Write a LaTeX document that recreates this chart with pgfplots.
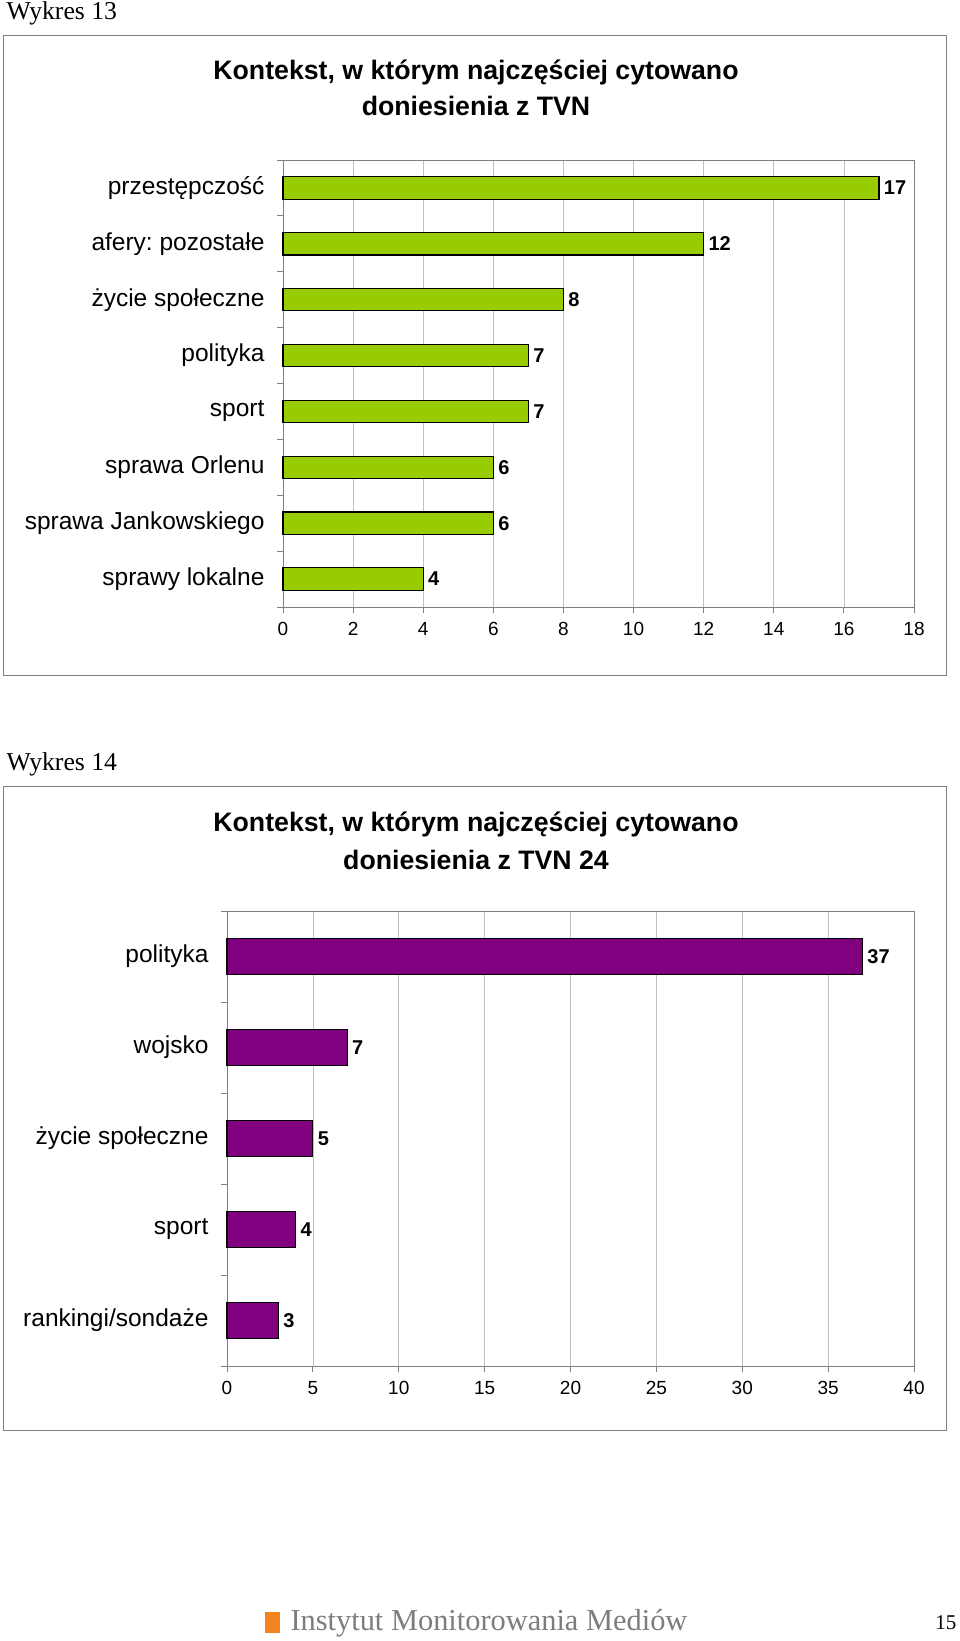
\documentclass[border=0pt]{standalone}
\usepackage{pgfplots}
\pgfplotsset{compat=1.18}
\usepackage{fontspec}
\setmainfont{Liberation Sans}
\newfontfamily\timesfont{Liberation Serif}
\frenchspacing
\definecolor{barg}{RGB}{153,204,0}
\definecolor{barp}{RGB}{128,0,128}
\definecolor{framegray}{RGB}{128,128,128}
\definecolor{gridgray}{RGB}{192,192,192}
\definecolor{logoorange}{RGB}{245,130,32}
\definecolor{logogray}{RGB}{125,125,125}
\pgfplotsset{
 mybar/.style={
  xbar, scale only axis,
  xmajorgrids, grid style={gridgray, line width=0.6pt},
  axis line style={framegray, line width=0.8pt},
  tick align=outside, xtick pos=bottom, ytick pos=left,
  major y tick style={draw=none},
  tick style={framegray, line width=0.8pt},
  major tick length=6pt, minor tick length=6pt,
  /pgf/number format/assume math mode=true,
  xticklabel style={font=\fontsize{19}{22}\selectfont, yshift=-6pt},
  yticklabel style={font=\frenchspacing\fontsize{24.5}{28}\selectfont, xshift=-9pt},
  nodes near coords,
  nodes near coords style={font=\bfseries\fontsize{20}{23}\selectfont, anchor=west, xshift=1pt, black},
  bar width=0.4,
  clip=false,
 }
}
\begin{document}
\begin{tikzpicture}
\path[use as bounding box] (0,0) rectangle (960pt,-1641pt);
% headings
\node[anchor=west, font=\timesfont\fontsize{25.7}{28}\selectfont] at (3pt,-13pt) {Wykres 13};
\node[anchor=west, font=\timesfont\fontsize{25.7}{28}\selectfont] at (3pt,-764pt) {Wykres 14};
% frames
\draw[framegray, line width=0.8pt] (3pt,-35pt) rectangle (946pt,-675pt);
\draw[framegray, line width=0.8pt] (3pt,-786pt) rectangle (946pt,-1430pt);
% titles
\node[font=\bfseries\fontsize{26.7}{30}\selectfont] at (476pt,-72pt) {Kontekst, w którym najczęściej cytowano};
\node[font=\bfseries\fontsize{26.7}{30}\selectfont] at (476pt,-106pt) {doniesienia z TVN};
\node[font=\bfseries\fontsize{26.7}{30}\selectfont] at (476pt,-824pt) {Kontekst, w którym najczęściej cytowano};
\node[font=\bfseries\fontsize{26.7}{30}\selectfont] at (476pt,-860pt) {doniesienia z TVN 24};

\begin{axis}[mybar,
  at={(283pt,-607pt)}, anchor=south west,
  width=631pt, height=447pt,
  xmin=0, xmax=18, xtick={0,2,...,18},
  ymin=-0.5, ymax=7.5,
  ytick={0,...,7},
  yticklabels={sprawy lokalne, sprawa Jankowskiego, sprawa Orlenu, sport, polityka, życie społeczne, afery: pozostałe, przestępczość},
  minor ytick={-0.5,0.5,...,7.5},
]
\addplot[fill=barg, draw=black, line width=1.2pt] coordinates {(4,0) (6,1) (6,2) (7,3) (7,4) (8,5) (12,6) (17,7)};
\end{axis}

\begin{axis}[mybar,
  at={(227pt,-1366pt)}, anchor=south west,
  width=687pt, height=455pt,
  xmin=0, xmax=40, xtick={0,5,...,40},
  ymin=-0.5, ymax=4.5,
  ytick={0,...,4},
  yticklabels={rankingi/sondaże, sport, życie społeczne, wojsko, polityka},
  minor ytick={-0.5,0.5,...,4.5},
]
\addplot[fill=barp, draw=black, line width=1.2pt] coordinates {(3,0) (4,1) (5,2) (7,3) (37,4)};
\end{axis}

% footer
\fill[logoorange] (265pt,-1612pt) rectangle (280pt,-1633pt);
\node[anchor=west, font=\timesfont\fontsize{30.4}{33}\selectfont, text=logogray] at (287pt,-1623pt) {Instytut Monitorowania Mediów};
\node[anchor=east, font=\timesfont\fontsize{21}{24}\selectfont] at (960pt,-1623pt) {15};
\end{tikzpicture}
\end{document}
